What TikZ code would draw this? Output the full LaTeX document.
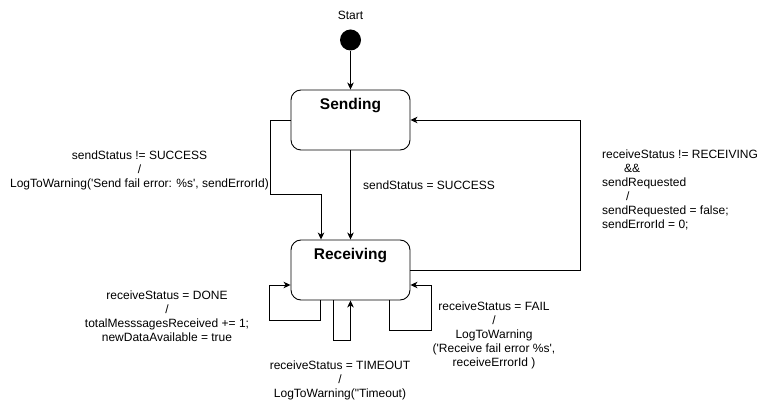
\documentclass[tikz,border=0pt]{standalone}
\usepackage{fontspec}
\setmainfont{Liberation Sans}
\usetikzlibrary{arrows.meta}
\begin{document}
\begin{tikzpicture}[x=1pt,y=-1pt,
  state/.style={draw, rounded corners=10pt, minimum width=119pt, minimum height=60pt, line width=0.9pt, inner sep=0pt},
  title/.style={font=\fontsize{15.5}{18}\selectfont\bfseries, inner sep=0pt},
  lbl/.style={font=\fontsize{12}{14}\selectfont, align=center, inner sep=0pt},
  arr/.style={-{Stealth[length=7pt,width=6.5pt,inset=2pt]}, line width=0.9pt}]
\useasboundingbox (0,0) rectangle (781,411);
\node[lbl] (startlbl) at (350.5,15) {Start};
\node[circle, fill=black, minimum size=21pt, inner sep=0pt] (start) at (350.5,40) {};
\node[state] (sending) at (350.5,120) {};
\node[title] (sendingtitle) at (350.5,106) {Sending};
\node[state] (receiving) at (350.5,270) {};
\node[title] (receivingtitle) at (350.5,256) {Receiving};
% connectors
\draw[arr] (start) -- (sending);
\draw[arr] (sending.west) -- ++(-20,0) |- ([xshift=-29.5pt,yshift=45pt]receiving.north) -- ([xshift=-29.5pt]receiving.north);
\draw[arr] (sending) -- (receiving);
\draw[arr] (receiving.east) -- ++(170,0) |- (sending.east);
\draw[arr] ([xshift=-30.5pt]receiving.south) -- ++(0,20) -| ([xshift=-21pt,yshift=-15pt]receiving.west) -- ([yshift=-15pt]receiving.west);
\draw[arr] ([xshift=-17.5pt]receiving.south) -- ++(0,40) -| (receiving.south);
\draw[arr] ([xshift=39pt]receiving.south) -- ++(0,30) -| ([xshift=21pt,yshift=-15pt]receiving.east) -- ([yshift=-15pt]receiving.east);
% labels
\node[lbl] (l1) at (139.5,170) {sendStatus != SUCCESS\\/\\LogToWarning(\textquotesingle Send fail error: \%s\textquotesingle, sendErrorId)};
\node[lbl, anchor=west] (l2) at (363,185) {sendStatus = SUCCESS};
\node[lbl, align=left, anchor=west] (l3) at (602,190) {receiveStatus != RECEIVING\\\hspace{22pt}\&\&\\sendRequested\\\hspace{24pt}/\\sendRequested = false;\\sendErrorId = 0;};
\node[lbl] (l4) at (167,316) {receiveStatus = DONE\\/\\totalMesssagesReceived += 1;\\newDataAvailable = true};
\node[lbl] (l5) at (494,335) {receiveStatus = FAIL\\/\\LogToWarning\\(\textquotesingle Receive fail error \%s\textquotesingle,\\receiveErrorId )};
\node[lbl] (l6) at (340,380) {receiveStatus = TIMEOUT\\/\\LogToWarning(\textquotedbl Timeout)};
\end{tikzpicture}
\end{document}
